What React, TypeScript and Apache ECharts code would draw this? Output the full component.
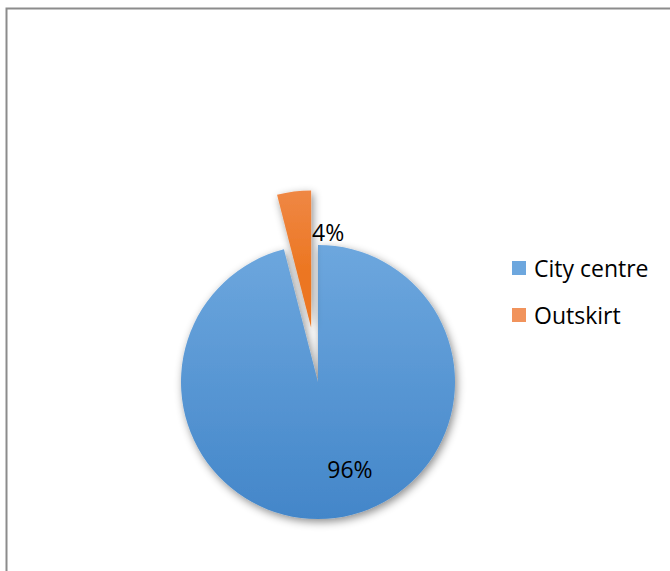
import React, { useEffect, useRef } from "react";
import * as echarts from "echarts";

const categories = ["City centre", "Outskirt"];
const values = [96, 4];
const colorsTop = ["#6DA7DE", "#F1935C"];
const colorsBottom = ["#4386C9", "#EC7621"];

export default function App() {
  const ref = useRef<HTMLDivElement>(null);
  useEffect(() => {
    if (!ref.current) return;
    const chart = echarts.init(ref.current, null, { renderer: "svg" });
    const font = "'Open Sans', 'Liberation Sans', sans-serif";
    const gradients = [
      { type: "linear", x: 0, y: 245, x2: 0, y2: 519, global: true },
      { type: "linear", x: 0, y: 190, x2: 0, y2: 327, global: true },
    ];
    chart.setOption({
      animation: false,
      backgroundColor: "#fff",
      graphic: [
        {
          type: "rect",
          shape: { x: 6.5, y: 8.5, width: 700, height: 600 },
          style: { fill: "none", stroke: "#8c8c8c", lineWidth: 2 },
          silent: true,
        },
      ],
      legend: {
        orient: "vertical",
        left: 512,
        top: 255,
        padding: 0,
        itemWidth: 14,
        itemHeight: 14,
        itemGap: 21,
        icon: "rect",
        textStyle: {
          fontSize: 23,
          color: "#000",
          fontFamily: font,
          lineHeight: 26,
          padding: [0, 0, 0, 3],
        },
        data: categories,
      },
      series: [
        {
          type: "pie",
          center: [318, 382],
          radius: [0, 137],
          startAngle: 90,
          clockwise: true,
          selectedMode: "single",
          selectedOffset: 55,
          emphasis: { disabled: true },
          label: {
            show: true,
            position: "inside",
            formatter: "{d}%",
            fontSize: 23,
            color: "#000",
            fontFamily: font,
          },
          labelLayout: (p: any) =>
            p.dataIndex === 0 ? { dx: 23, dy: 16 } : { dx: 26, dy: -24 },
          itemStyle: {
            shadowBlur: 8,
            shadowColor: "rgba(0,0,0,0.45)",
            shadowOffsetX: 2,
            shadowOffsetY: 3,
          },
          data: categories.map((name, i) => ({
            name,
            value: values[i],
            selected: i === 1,
            itemStyle: {
              color: {
                ...gradients[i],
                colorStops: [
                  { offset: 0, color: colorsTop[i] },
                  { offset: 1, color: colorsBottom[i] },
                ],
              },
            },
          })),
        },
      ],
    });
    return () => chart.dispose();
  }, []);
  return (
    <div
      ref={ref}
      style={{ position: "fixed", left: 0, top: 0, width: 670, height: 571 }}
    />
  );
}
